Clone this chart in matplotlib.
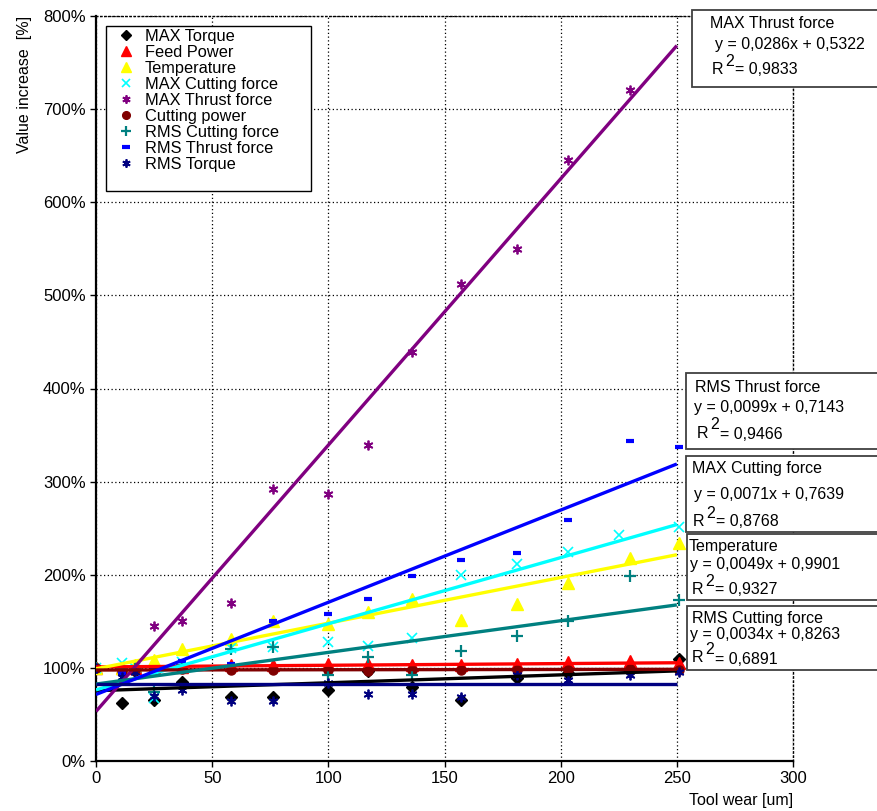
import matplotlib
matplotlib.use('Agg')
import matplotlib.pyplot as plt
import numpy as np
from matplotlib.patches import Rectangle

plt.rcParams['font.family'] = ['Liberation Sans', 'DejaVu Sans']

# tool wear [um] for each measurement
wear = [0, 11, 17, 25, 37, 58, 76, 100, 117, 136, 157, 181, 203, 230, 251]
wear_max_cut = [0, 11, 17, 25, 37, 58, 76, 100, 117, 136, 157, 181, 203, 225, 251]

# value increase [%]
max_torque = [100, 62, 97, 65, 85, 69, 69, 76, 97, 79, 66, 89, 94, 97, 110]
feed_power = [100, 100, 100, 100, 101, 103, 103, 104, 104, 103, 103, 104, 106, 107, 105]
temperature = [100, 100, 103, 108, 120, 131, 150, 147, 160, 174, 151, 169, 191, 218, 234]
max_cutting = [100, 105, 100, 68, 106, 121, 122, 128, 123, 132, 200, 212, 224, 243, 251]
max_thrust = [100, 98, 100, 145, 150, 170, 292, 287, 339, 439, 512, 550, 645, 721, np.nan]
cutting_power = [100, 97, 98, 98, 99, 98, 98, 98, 97, 98, 98, 98, 98, 99, 98]
rms_cutting = [100, 100, 100, 74, 103, 120, 122, 92, 112, 92, 118, 134, 150, 199, 173]
rms_thrust = [100, 95, 100, 100, 107, 104, 150, 158, 174, 199, 216, 223, 259, 344, 337]
rms_torque = [100, 90, 96, 70, 76, 64, 64, 84, 72, 72, 69, 92, 87, 92, 96]

# linear trendlines, y = slope*x + intercept (as fraction)
trend_slope = [0.00085, 0.00018, 0.0049, 0.0071, 0.0286, 0.00003, 0.0034, 0.0099, 0.0]
trend_icpt = [0.755, 1.01, 0.9901, 0.7639, 0.5322, 0.977, 0.8263, 0.7143, 0.824]
trend_range = [0, 250]

series = [
    ('MAX Torque', wear, max_torque, dict(marker='D', color='black', ms=6)),
    ('Feed Power', wear, feed_power, dict(marker='^', color='#ff0000', ms=8)),
    ('Temperature', wear, temperature, dict(marker='^', color='#ffff00', ms=8)),
    ('MAX Cutting force', wear_max_cut, max_cutting,
     dict(marker='x', color='#00ffff', ms=7, mew=1.2)),
    ('MAX Thrust force', wear, max_thrust,
     dict(marker=(6, 2, 0), color='#800080', ms=7, mew=1.3)),
    ('Cutting power', wear, cutting_power, dict(marker='o', color='#800000', ms=6.5)),
    ('RMS Cutting force', wear, rms_cutting,
     dict(marker='+', color='#008080', ms=8, mew=1.6)),
    ('RMS Thrust force', wear, rms_thrust,
     dict(marker='_', color='#0000ff', ms=6, mew=3)),
    ('RMS Torque', wear, rms_torque,
     dict(marker=(6, 2, 0), color='#000080', ms=7, mew=1.3)),
]

W, H = 877, 811
fig = plt.figure(figsize=(8.77, 8.11), dpi=100)
ax = fig.add_axes([96 / W, 1 - 761 / H, 697 / W, 745 / H])

for (name, xs, ys, style), slope, icpt in zip(series, trend_slope, trend_icpt):
    ax.plot(xs, ys, linestyle='none', label=name, zorder=3, **style)
    tx = np.array(trend_range)
    ax.plot(tx, (slope * tx + icpt) * 100, color=style['color'], lw=2.4,
            zorder=4, solid_capstyle='butt')

ax.set_xlim(0, 300)
ax.set_ylim(0, 800)
ax.set_xticks(range(0, 301, 50))
ax.set_yticks(range(0, 801, 100))
ax.set_yticklabels([f'{v}%' for v in range(0, 801, 100)])
ax.tick_params(labelsize=12, direction='out', length=4, width=1)
ax.grid(True, color='black', linestyle=(0, (1, 2)), linewidth=0.9)
ax.set_axisbelow(True)
for side in ['top', 'right']:
    ax.spines[side].set_linestyle((0, (1, 2)))
    ax.spines[side].set_linewidth(1.0)
for side in ['left', 'bottom']:
    ax.spines[side].set_linewidth(1.6)

ax.set_xlabel('Tool wear [um]', fontsize=11.5, loc='right', labelpad=5)
ax.set_ylabel('Value increase  [%]', fontsize=11.5, loc='top', labelpad=8)

# legend frame (Excel leaves empty space inside it)
ax.add_patch(Rectangle(((106 - 96) / 697, (761 - 191) / 745), (311 - 106) / 697,
                       (191 - 26) / 745, transform=ax.transAxes, facecolor='white',
                       edgecolor='black', lw=1.0, zorder=4.5))
leg = ax.legend(loc='upper left', bbox_to_anchor=(15 / 697, 1 - 13 / 745),
                borderaxespad=0, borderpad=0, fontsize=11.8, labelspacing=0.06,
                handlelength=1.8, handletextpad=0.27, frameon=False, numpoints=1)
leg.set_zorder(6)
for h in leg.legend_handles:
    h.set_markersize(h.get_markersize() * 0.85)

# equation boxes (pixel coordinates of the original image)
boxes = [
    (692, 10, 87, 'MAX Thrust force', 710, 23, 'y = 0,0286x + 0,5322', 715, 45,
     '0,9833', 712, 69),
    (686, 373, 449, 'RMS Thrust force', 695, 387, 'y = 0,0099x + 0,7143', 694, 408,
     '0,9466', 697, 433),
    (686, 456, 532, 'MAX Cutting force', 692, 469, 'y = 0,0071x + 0,7639', 694, 494,
     '0,8768', 693, 521),
    (687, 534, 600, 'Temperature', 689, 547, 'y = 0,0049x + 0,9901', 690, 565,
     '0,9327', 692, 589),
    (687, 606, 670, 'RMS Cutting force', 692, 618, 'y = 0,0034x + 0,8263', 690, 635,
     '0,6891', 692, 658),
]
for left, top, bottom, title, tx, ty, eq, ex, ey, r2, rx, ry in boxes:
    fig.add_artist(Rectangle((left / W, 1 - bottom / H), (900 - left) / W,
                             (bottom - top) / H, transform=fig.transFigure,
                             facecolor='white', edgecolor='#404040', lw=1.3,
                             zorder=10))
    kw = dict(fontsize=11.5, ha='left', va='center', zorder=11)
    fig.text(tx / W, 1 - ty / H, title, **kw)
    fig.text(ex / W, 1 - ey / H, eq, **kw)
    fig.text(rx / W, 1 - ry / H, 'R', **kw)
    fig.text((rx + 13) / W, 1 - (ry - 8) / H, '2', **kw)
    fig.text((rx + 23) / W, 1 - (ry + 1) / H, '= ' + r2, **kw)

plt.savefig('out.png', dpi=100)
